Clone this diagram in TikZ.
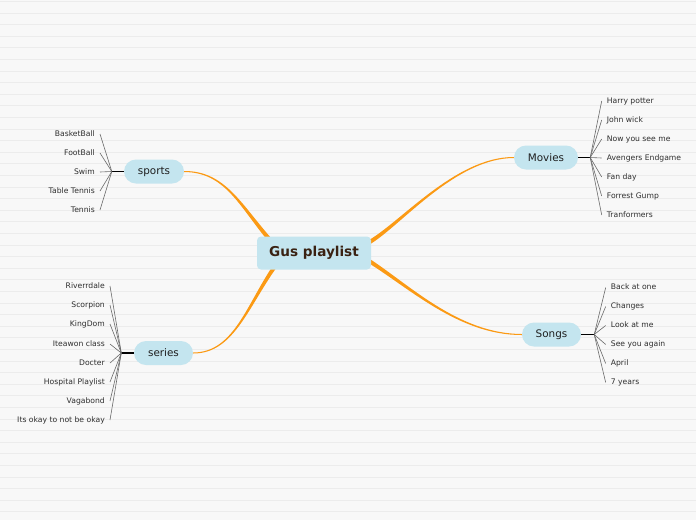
\documentclass[tikz,border=0pt]{standalone}
\usepackage{fontspec}
\setmainfont{DejaVu Sans}
\usetikzlibrary{calc}
\definecolor{bgcol}{HTML}{F8F8F8}
\definecolor{bglinecol}{HTML}{ECECEC}
\definecolor{nodeblue}{HTML}{C4E5EF}
\definecolor{rootbrown}{HTML}{3A2213}
\definecolor{curveorange}{HTML}{FB9A14}
\definecolor{leafgray}{HTML}{6A6A6A}
\definecolor{leaftext}{HTML}{2E2E2E}
\newcommand{\gustaper}[4]{%
  \fill[curveorange] ($(#1)!0.5pt!90:(#2)$) .. controls ($(#2)!0.7pt!-90:(#1)$) and ($(#3)!1.4pt!90:(#4)$) .. ($(#4)!2.1pt!-90:(#3)$)
    -- ($(#4)!2.1pt!90:(#3)$) .. controls ($(#3)!1.4pt!-90:(#4)$) and ($(#2)!0.7pt!90:(#1)$) .. ($(#1)!0.5pt!-90:(#2)$) -- cycle;}
\tikzset{
  rootbox/.style={fill=nodeblue, rounded corners=4pt, minimum width=114pt, minimum height=33pt, inner sep=0pt,
    text=rootbrown, font=\bfseries\fontsize{13.6}{16}\selectfont},
  branchbox/.style={fill=nodeblue, rounded corners=12pt, minimum height=24pt, inner sep=0pt,
    text=black!88, font=\fontsize{10.4}{12}\selectfont},
  leaftxt/.style={inner sep=0pt, text=leaftext, text height=5.5pt, text depth=1.5pt, font=\fontsize{7.65}{9}\selectfont},
  leafline/.style={draw=leafgray, line width=0.6pt},
  hubline/.style={draw=black, line width=1.5pt},
  bgline/.style={draw=bglinecol, line width=0.8pt}
}
\begin{document}
\begin{tikzpicture}[x=1pt,y=-1pt]
\useasboundingbox (0,0) rectangle (696,520);
\fill[bgcol] (0,0) rectangle (696,520);
\foreach \k in {0,...,44} \draw[bgline] (0,{1.3+11.6*\k}) -- (696,{1.3+11.6*\k});

% branch nodes
\node[branchbox, minimum width=60pt] (sports) at (154,171.5) {sports};
\node[branchbox, minimum width=64pt] (movies) at (546,157.5) {Movies};
\node[branchbox, minimum width=59pt] (series) at (163.5,353) {series};
\node[branchbox, minimum width=59pt] (songs) at (551.5,334.5) {Songs};

% curve control coordinates
\coordinate (spA) at (225,171.5); \coordinate (spB) at (240,205); \coordinate (spC) at (270,240);
\coordinate (mvA) at (455,157.5); \coordinate (mvB) at (400,225); \coordinate (mvC) at (368,243);
\coordinate (seA) at (235,353); \coordinate (seB) at (248,303); \coordinate (seC) at (278,262);
\coordinate (soA) at (458,334.5); \coordinate (soB) at (408,285); \coordinate (soC) at (366,259);
\gustaper{sports.east}{spA}{spB}{spC}
\gustaper{movies.west}{mvA}{mvB}{mvC}
\gustaper{series.east}{seA}{seB}{seC}
\gustaper{songs.west}{soA}{soB}{soC}

\node[rootbox] (root) at (314,253) {Gus playlist};

% hubs
\coordinate (sphub) at ($(sports.west)+(-12,0)$);
\coordinate (mvhub) at ($(movies.east)+(12,0)$);
\coordinate (sehub) at ($(series.west)+(-12.5,0)$);
\coordinate (sohub) at ($(songs.east)+(13,0)$);
\draw[hubline] (sports.west) -- (sphub);
\draw[hubline] (movies.east) -- (mvhub);
\draw[hubline] (series.west) -- (sehub);
\draw[hubline] (songs.east) -- (sohub);

% sports leaves
\foreach \n/\y/\t in {1/134/BasketBall, 2/153/FootBall, 3/172/Swim, 4/191/Table Tennis, 5/210/Tennis}{
  \node[leaftxt, anchor=east] (sp\n) at (95,\y) {\t};
  \draw[leafline] (sphub) -- ([xshift=5pt]sp\n.east);
}
% movies leaves
\foreach \n/\y/\t in {1/101/Harry potter, 2/120/John wick, 3/139/Now you see me, 4/158/Avengers Endgame, 5/177/Fan day, 6/196/Forrest Gump, 7/215/Tranformers}{
  \node[leaftxt, anchor=west] (mv\n) at (606.7,\y) {\t};
  \draw[leafline] (mvhub) -- ([xshift=-5pt]mv\n.west);
}
% series leaves
\foreach \n/\y/\t in {1/286/Riverrdale, 2/305/Scorpion, 3/324/KingDom, 4/344/Iteawon class, 5/363/Docter, 6/382/Hospital Playlist, 7/401/Vagabond, 8/420/Its okay to not be okay}{
  \node[leaftxt, anchor=east] (se\n) at (105,\y) {\t};
  \draw[leafline] (sehub) -- ([xshift=5pt]se\n.east);
}
% songs leaves
\foreach \n/\y/\t in {1/287.5/Back at one, 2/306.5/Changes, 3/325.5/Look at me, 4/344.5/See you again, 5/363.5/April, 6/382.5/7 years}{
  \node[leaftxt, anchor=west] (so\n) at (610.7,\y) {\t};
  \draw[leafline] (sohub) -- ([xshift=-5pt]so\n.west);
}
\end{tikzpicture}
\end{document}
